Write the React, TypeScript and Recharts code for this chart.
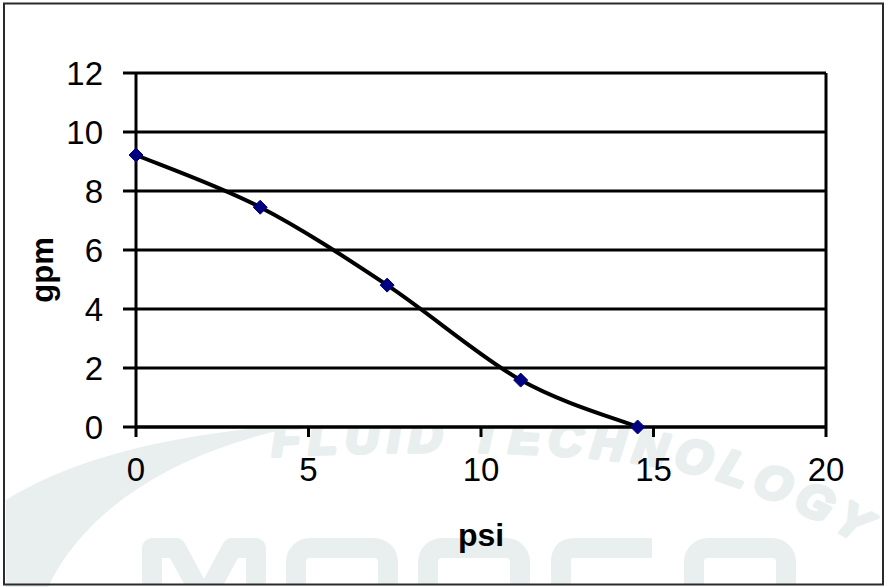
import React from "react";
import {
  LineChart,
  Line,
  XAxis,
  YAxis,
  CartesianGrid,
  ReferenceLine,
  Label,
} from "recharts";

const psiValues = [0, 3.6, 7.28, 11.15, 14.54];
const gpmValues = [9.22, 7.45, 4.81, 1.59, 0];
const xTicks = [0, 5, 10, 15, 20];
const yTicks = [0, 2, 4, 6, 8, 10, 12];
const xTitle = "psi";
const yTitle = "gpm";
const watermarkText = "FLUID TECHNOLOGY";

const data = psiValues.map((p, i) => ({ psi: p, gpm: gpmValues[i] }));

// Excel-like smoothed line (Bezier through points, tangent = neighbours / 6)
const excelSmooth = (context: any) => {
  let pts: number[][] = [];
  return {
    areaStart() {},
    areaEnd() {},
    lineStart() {
      pts = [];
    },
    lineEnd() {
      if (!pts.length) return;
      context.moveTo(pts[0][0], pts[0][1]);
      for (let i = 0; i < pts.length - 1; i++) {
        const a = pts[i - 1] || pts[i];
        const b = pts[i];
        const c = pts[i + 1];
        const d = pts[i + 2] || pts[i + 1];
        context.bezierCurveTo(
          b[0] + (c[0] - a[0]) / 6,
          b[1] + (c[1] - a[1]) / 6,
          c[0] - (d[0] - b[0]) / 6,
          c[1] - (d[1] - b[1]) / 6,
          c[0],
          c[1]
        );
      }
    },
    point(x: number, y: number) {
      pts.push([+x, +y]);
    },
  };
};

const Diamond = (props: any) => {
  const { cx, cy } = props;
  if (cx == null || cy == null) return null;
  const r = 7;
  return (
    <polygon
      points={`${cx},${cy - r} ${cx + r},${cy} ${cx},${cy + r} ${cx - r},${cy}`}
      fill="#000080"
      stroke="#000080"
      strokeWidth={1}
    />
  );
};

const WM = "#e9efee";

const Watermark = () => (
  <svg
    width={889}
    height={587}
    style={{ position: "absolute", left: 0, top: 0 }}
  >
    <rect x={0} y={0} width={889} height={587} fill="#ffffff" />
    <path d="M 6,500 C 70,460 170,432 310,424 C 190,446 90,500 48,587 L 6,587 Z" fill={WM} />
    <defs>
      <path id="wmArc" d="M 272,456 C 480,446 640,452 730,484 C 800,508 860,540 930,590" />
      <clipPath id="wmClip">
        <rect x={5} y={5} width={877} height={579} />
      </clipPath>
    </defs>
    <g clipPath="url(#wmClip)">
      <text
        fontFamily="Liberation Sans, Arial, sans-serif"
        fontWeight="bold"
        fontStyle="italic"
        fontSize={47}
        fill={WM}
        stroke={WM}
        strokeWidth={4}
        strokeLinejoin="round"
        letterSpacing={8}
      >
        <textPath href="#wmArc">{watermarkText}</textPath>
      </text>
      <g fill="none" stroke={WM} strokeWidth={20}>
        <path d="M 152,600 L 152,548 L 176,548 L 204,600 L 232,548 L 256,548 L 256,600" strokeLinejoin="round" />
        <rect x={296} y={548} width={92} height={80} rx={14} />
        <rect x={428} y={548} width={92} height={80} rx={14} />
        <path d="M 652,548 L 574,548 Q 561,548 561,562 L 561,628" strokeLinejoin="round" />
        <rect x={694} y={548} width={92} height={80} rx={14} />
      </g>
    </g>
    <rect
      x={4}
      y={3.5}
      width={879}
      height={581}
      fill="none"
      stroke="#2a2a2a"
      strokeWidth={2}
    />
  </svg>
);

const tickStyle = {
  fill: "#000",
  fontSize: 33,
  fontFamily: "Liberation Sans, Arial, sans-serif",
};

export default function App() {
  return (
    <div
      style={{
        position: "absolute",
        left: 0,
        top: 0,
        width: 889,
        height: 587,
      }}
    >
      <Watermark />
      <div style={{ position: "absolute", left: 0, top: 0 }}>
        <LineChart
          width={889}
          height={587}
          data={data}
          margin={{ top: 73, right: 63, bottom: 0, left: 0 }}
        >
          <CartesianGrid
            vertical={false}
            stroke="#000"
            strokeWidth={3}
            fill="#ffffff"
            fillOpacity={1}
          />
          <XAxis
            dataKey="psi"
            type="number"
            domain={[0, 20]}
            ticks={xTicks}
            height={160}
            tickSize={10}
            tickMargin={21}
            tick={tickStyle}
            axisLine={{ stroke: "#000", strokeWidth: 3 }}
            tickLine={{ stroke: "#000", strokeWidth: 3 }}
          >
            <Label
              content={(p: any) => {
                const vb = p.viewBox;
                return (
                  <text
                    x={vb.x + vb.width / 2}
                    y={vb.y + 119}
                    textAnchor="middle"
                    fontFamily="Liberation Sans, Arial, sans-serif"
                    fontWeight="bold"
                    fontSize={32}
                    fill="#000"
                  >
                    {xTitle}
                  </text>
                );
              }}
            />
          </XAxis>
          <YAxis
            type="number"
            domain={[0, 12]}
            ticks={yTicks}
            width={136}
            tickSize={13}
            tickMargin={20}
            tick={tickStyle}
            interval={0}
            axisLine={{ stroke: "#000", strokeWidth: 3 }}
            tickLine={{ stroke: "#000", strokeWidth: 3 }}
          >
            <Label
              content={(p: any) => {
                const vb = p.viewBox;
                const x = vb.x + 53;
                const y = vb.y + vb.height / 2 + 20;
                return (
                  <text
                    x={x}
                    y={y}
                    transform={`rotate(-90 ${x} ${y})`}
                    textAnchor="middle"
                    fontFamily="Liberation Sans, Arial, sans-serif"
                    fontWeight="bold"
                    fontSize={31}
                    fill="#000"
                  >
                    {yTitle}
                  </text>
                );
              }}
            />
          </YAxis>
          <ReferenceLine x={20} stroke="#000" strokeWidth={3} ifOverflow="extendDomain" />
          <Line
            dataKey="gpm"
            type={excelSmooth as any}
            stroke="#000"
            strokeWidth={4}
            dot={<Diamond />}
            activeDot={false}
            isAnimationActive={false}
          />
        </LineChart>
      </div>
    </div>
  );
}
